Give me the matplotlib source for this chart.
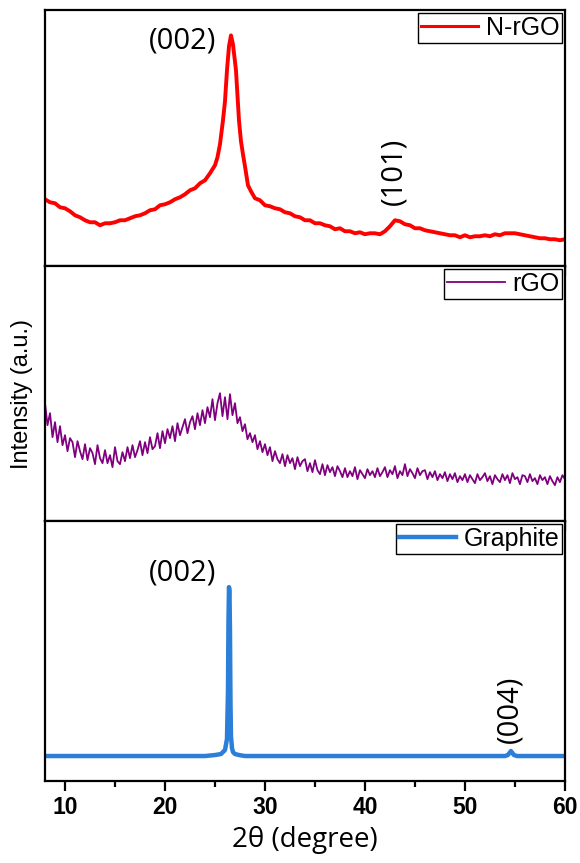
import matplotlib.pyplot as plt
import numpy as np

# N-rGO (top panel)
x_nrgo = [8.0, 8.5, 9.0, 9.5, 10.0, 10.5, 11.0, 11.5, 12.0, 12.5, 13.0, 13.5, 14.0, 14.5,
          15.0, 15.5, 16.0, 16.5, 17.0, 17.5, 18.0, 18.5, 19.0, 19.5, 20.0, 20.5, 21.0, 21.5,
          22.0, 22.5, 23.0, 23.5, 24.0, 24.5, 25.0, 25.25, 25.5, 25.8, 26.0, 26.2, 26.4, 26.6,
          26.8, 27.1, 27.4, 27.6, 27.8, 28.0, 28.3, 28.6, 29.0, 29.5, 30.0, 30.5, 31.0, 31.5,
          32.0, 32.5, 33.0, 33.5, 34.0, 34.5, 35.0, 35.5, 36.0, 36.5, 37.0, 37.5, 38.0, 38.5,
          39.0, 39.5, 40.0, 40.5, 41.0, 41.5, 42.0, 42.5, 43.0, 43.5, 44.0, 44.5, 45.0, 45.5,
          46.0, 46.5, 47.0, 47.5, 48.0, 48.5, 49.0, 49.5, 50.0, 50.5, 51.0, 51.5, 52.0, 52.5,
          53.0, 53.5, 54.0, 54.5, 55.0, 55.5, 56.0, 56.5, 57.0, 57.5, 58.0, 58.5, 59.0, 59.5, 60.0]
y_nrgo = [67, 64, 63, 59, 58, 55, 51, 49, 46, 44, 44, 41, 43, 43,
          44, 46, 46, 48, 50, 51, 53, 56, 57, 61, 62, 64, 67, 69,
          72, 76, 78, 83, 86, 93, 101, 109, 122, 146, 165, 196, 220, 231,
          222, 196, 146, 125, 112, 100, 81, 75, 68, 66, 61, 60, 58, 57,
          54, 53, 50, 49, 46, 46, 43, 43, 41, 40, 37, 38, 35, 35,
          33, 34, 32, 33, 33, 32, 35, 40, 46, 45, 42, 41, 38, 38,
          36, 35, 34, 33, 32, 31, 31, 29, 31, 29, 30, 30, 31, 30,
          32, 31, 33, 33, 33, 32, 31, 30, 29, 28, 28, 27, 27, 26, 27]

# rGO (middle panel), sampled every 0.25 degree from 8 to 60
x_rgo = np.arange(8.0, 60.01, 0.25)
y_rgo = [118, 96, 108, 84, 99, 79, 95, 76,
         86, 70, 83, 79, 64, 80, 70, 62,
         77, 61, 73, 68, 57, 76, 63, 58,
         71, 58, 66, 54, 74, 60, 57, 69,
         60, 74, 63, 76, 64, 71, 80, 66,
         79, 68, 84, 72, 75, 88, 73, 90,
         78, 92, 83, 95, 80, 98, 86, 94,
         102, 88, 99, 105, 92, 108, 96, 111,
         98, 114, 104, 122, 101, 118, 128, 105,
         124, 102, 127, 106, 118, 98, 104, 90,
         97, 82, 88, 79, 86, 72, 80, 69,
         77, 66, 74, 60, 70, 62, 58, 67,
         55, 66, 58, 63, 52, 64, 55, 60,
         62, 50, 58, 49, 61, 51, 47, 57,
         46, 56, 49, 54, 45, 55, 50, 44,
         53, 44, 50, 45, 54, 42, 51, 47,
         43, 52, 46, 50, 44, 53, 45, 49,
         54, 44, 51, 47, 55, 43, 50, 46,
         57, 45, 52, 48, 43, 53, 46, 50,
         51, 42, 49, 44, 50, 41, 47, 43,
         49, 40, 47, 42, 48, 39, 45, 41,
         47, 39, 46, 42, 38, 47, 41, 44,
         48, 40, 45, 37, 46, 42, 39, 47,
         41, 46, 38, 48, 42, 44, 37, 46,
         45, 39, 47, 40, 43, 37, 46, 41,
         44, 37, 45, 40, 36, 44, 39, 46,
         42]

# Graphite (bottom panel)
x_gra = [8, 10, 12, 14, 16, 18, 20, 22, 24, 25, 25.6, 26.0, 26.2, 26.3, 26.35, 26.4, 26.45,
         26.5, 26.55, 26.6, 26.7, 26.8, 27.0, 27.4, 28, 30, 35, 40, 45, 50, 53, 54,
         54.3, 54.6, 54.9, 55.2, 56, 58, 60]
y_gra = [25, 25, 25, 25, 25, 25, 25, 25, 25, 26, 27, 31, 42, 90, 160, 194, 190,
         150, 80, 45, 33, 29, 27, 26, 25, 25, 25, 25, 25, 25, 25, 25,
         26, 30, 26, 25, 25, 25, 25]

xticks = [10, 20, 30, 40, 50, 60]

fig = plt.figure(figsize=(5.8, 8.63), dpi=100)
gs = fig.add_gridspec(3, 1, hspace=0, left=0.0776, right=0.974, top=0.988, bottom=0.095,
                      height_ratios=[256, 255, 260])
ax1 = fig.add_subplot(gs[0])
ax2 = fig.add_subplot(gs[1], sharex=ax1)
ax3 = fig.add_subplot(gs[2], sharex=ax1)

ax1.plot(x_nrgo, y_nrgo, color='#ff0000', lw=2.8, label='N-rGO')
ax2.plot(x_rgo, y_rgo, color='#800080', lw=1.3, label='rGO')
ax3.plot(x_gra, y_gra, color='#2b7fd9', lw=3.2, label='Graphite')

ax1.set_ylim(0, 256)
ax2.set_ylim(0, 255)
ax3.set_ylim(0, 260)
ax1.set_xlim(8, 60)

for ax in (ax1, ax2, ax3):
    for s in ax.spines.values():
        s.set_linewidth(1.6)
    ax.set_yticks([])
    ax.set_xticks(xticks)
    ax.set_xticks([15, 25, 35, 45, 55], minor=True)
    ax.tick_params(axis='x', which='major', direction='out', length=7, width=1.6)
    ax.tick_params(axis='x', which='minor', direction='out', length=4, width=1.6)
    leg = ax.legend(loc='upper right', borderaxespad=0.1, borderpad=0.12,
                    handlelength=2.3, handletextpad=0.3, fancybox=False, framealpha=1,
                    edgecolor='black', prop={'family': 'Liberation Sans', 'size': 18})
    leg.get_frame().set_linewidth(1.0)
    for h in leg.get_lines():
        h.set_linewidth(2.2 if ax is ax1 else (1.3 if ax is ax2 else 3.2))

ax1.tick_params(axis='x', labelbottom=False)
ax2.tick_params(axis='x', labelbottom=False)
for lab in ax3.get_xticklabels():
    lab.set_fontweight('bold')
    lab.set_fontsize(16.5)
    lab.set_family('Liberation Sans')
ax3.tick_params(axis='x', pad=4)

ann = dict(fontsize=21, family='Open Sans', ha='center', va='center')
ax1.text(21.8, 225, '(002)', **ann)
ax1.text(42.9, 95, '(101)', rotation=90, **ann)
ax3.text(21.8, 208, '(002)', **ann)
ax3.text(54.5, 72, '(004)', rotation=90, **ann)

ax2.set_ylabel('Intensity (a.u.)', fontsize=17, family='Liberation Sans', labelpad=9)
ax3.set_xlabel('2θ (degree)', fontsize=20, family='Open Sans', labelpad=5)

plt.savefig('out.png', dpi=100)
